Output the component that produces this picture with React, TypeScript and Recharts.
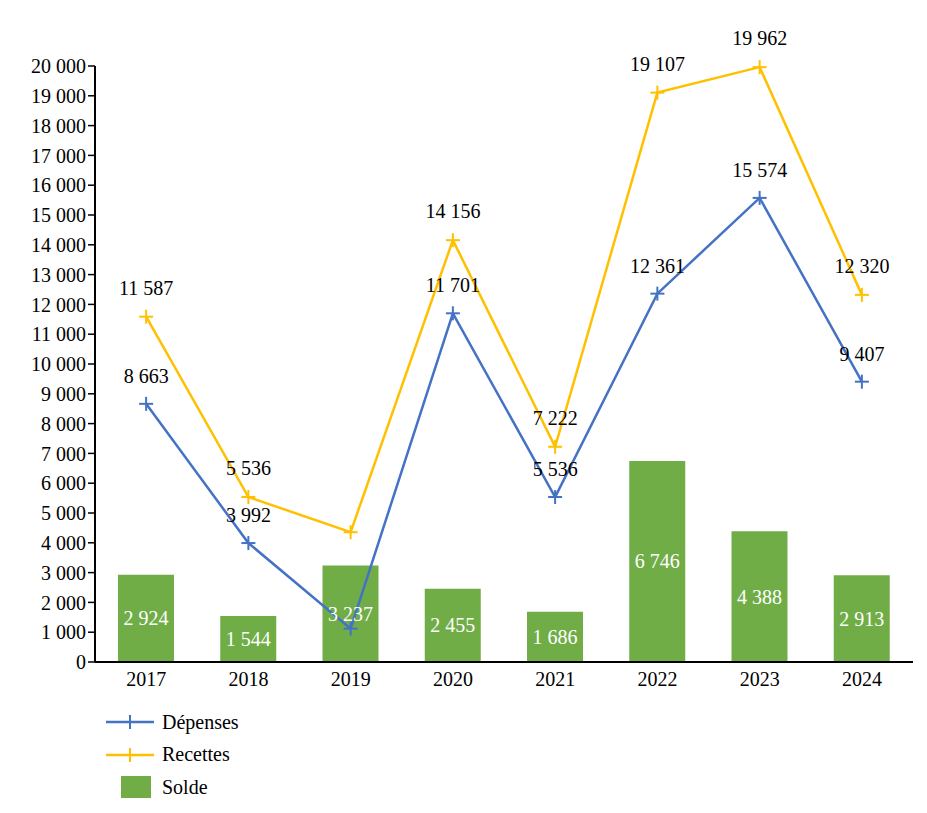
import React from "react";
import {
  ComposedChart,
  Bar,
  Line,
  XAxis,
  YAxis,
  LabelList,
} from "recharts";

const YEARS = ["2017", "2018", "2019", "2020", "2021", "2022", "2023", "2024"];
const DEPENSES = [8663, 3992, 1119, 11701, 5536, 12361, 15574, 9407];
const RECETTES = [11587, 5536, 4356, 14156, 7222, 19107, 19962, 12320];
const SOLDE = [2924, 1544, 3237, 2455, 1686, 6746, 4388, 2913];
// 2019 line values have no label in the original
const HIDDEN_LABEL_YEARS = ["2019"];
const Y_TICKS = [
  0, 1000, 2000, 3000, 4000, 5000, 6000, 7000, 8000, 9000, 10000, 11000, 12000,
  13000, 14000, 15000, 16000, 17000, 18000, 19000, 20000,
];

const BLUE = "#4472c4";
const GOLD = "#ffc000";
const GREEN = "#70ad47";
const FONT = "'Liberation Serif', serif";
const FS = 20;

const fmt = (v: number) => v.toLocaleString("fr-FR").replace(/\s/g, " ");

const data = YEARS.map((year, i) => ({
  year,
  depenses: DEPENSES[i],
  recettes: RECETTES[i],
  solde: SOLDE[i],
}));

function PlusDot(props: any) {
  const { cx, cy, stroke } = props;
  if (cx == null || cy == null) return null;
  return (
    <g>
      <line x1={cx - 7} y1={cy} x2={cx + 7} y2={cy} stroke={stroke} strokeWidth={2} />
      <line x1={cx} y1={cy - 7} x2={cx} y2={cy + 7} stroke={stroke} strokeWidth={2} />
    </g>
  );
}

function lineLabel(offset: number) {
  return (props: any) => {
    const { x, y, value, index } = props;
    if (HIDDEN_LABEL_YEARS.includes(YEARS[index])) return null;
    return (
      <text
        x={x}
        y={y - offset}
        textAnchor="middle"
        fontFamily={FONT}
        fontSize={FS}
        fill="#000"
      >
        {fmt(value)}
      </text>
    );
  };
}

function barLabel(props: any) {
  const { x, y, width, height, value } = props;
  return (
    <text
      x={x + width / 2}
      y={y + height / 2 + 7}
      textAnchor="middle"
      fontFamily={FONT}
      fontSize={FS}
      fill="#fff"
    >
      {fmt(value)}
    </text>
  );
}

function LegendBox() {
  const items = [
    { name: "Dépenses", color: BLUE, type: "line" },
    { name: "Recettes", color: GOLD, type: "line" },
    { name: "Solde", color: GREEN, type: "bar" },
  ];
  return (
    <div
      style={{
        position: "absolute",
        left: 96,
        top: 698,
        fontFamily: FONT,
        fontSize: FS,
        color: "#000",
      }}
    >
      {items.map((it) => (
        <div
          key={it.name}
          style={{ display: "flex", alignItems: "center", height: 32.5 }}
        >
          <svg width={52} height={24} style={{ marginRight: 6 }}>
            {it.type === "line" ? (
              <g>
                <line x1={2} y1={12} x2={50} y2={12} stroke={it.color} strokeWidth={2.5} />
                <line x1={26} y1={5} x2={26} y2={19} stroke={it.color} strokeWidth={2} />
              </g>
            ) : (
              <rect x={17} y={1} width={30} height={22} fill={it.color} />
            )}
          </svg>
          <span>{it.name}</span>
        </div>
      ))}
    </div>
  );
}

export default function App() {
  return (
    <div style={{ position: "relative", width: 919, height: 805 }}>
      <ComposedChart
        width={919}
        height={694}
        data={data}
        margin={{ top: 58, right: 14, bottom: 0, left: 0 }}
        barCategoryGap={0}
      >
        <XAxis
          dataKey="year"
          tickLine={false}
          axisLine={{ stroke: "#000", strokeWidth: 2 }}
          tick={{ fontFamily: FONT, fontSize: FS, fill: "#000" }}
          tickMargin={4}
          height={40}
        />
        <YAxis
          domain={[0, 20000]}
          ticks={Y_TICKS}
          interval={0}
          width={87}
          tickFormatter={fmt}
          axisLine={{ stroke: "#000", strokeWidth: 2 }}
          tickLine={{ stroke: "#000", strokeWidth: 1.5 }}
          tickSize={7}
          tick={{ fontFamily: FONT, fontSize: FS, fill: "#000" }}
        />
        <Bar dataKey="solde" name="Solde" fill={GREEN} barSize={56} isAnimationActive={false}>
          <LabelList dataKey="solde" content={barLabel} />
        </Bar>
        <Line
          dataKey="depenses"
          name="Dépenses"
          stroke={BLUE}
          strokeWidth={2.5}
          dot={<PlusDot />}
          activeDot={false}
          isAnimationActive={false}
        >
          <LabelList dataKey="depenses" content={lineLabel(21)} />
        </Line>
        <Line
          dataKey="recettes"
          name="Recettes"
          stroke={GOLD}
          strokeWidth={2.5}
          dot={<PlusDot />}
          activeDot={false}
          isAnimationActive={false}
        >
          <LabelList dataKey="recettes" content={lineLabel(22)} />
        </Line>
      </ComposedChart>
      <LegendBox />
    </div>
  );
}
